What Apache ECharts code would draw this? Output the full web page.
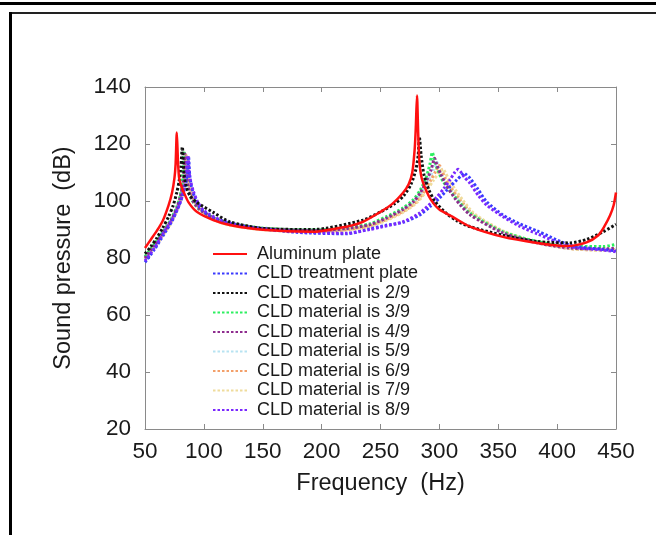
<!DOCTYPE html>
<html>
<head>
<meta charset="utf-8">
<script src="https://cdn.jsdelivr.net/npm/echarts@6/dist/echarts.min.js"></script>
<style>
html,body{margin:0;padding:0;background:#fff;}
#chart{width:656px;height:535px;}
</style>
</head>
<body>
<div id="chart"></div>
<script>
// ---- data ----
var xTicks = [50, 100, 150, 200, 250, 300, 350, 400, 450];
var yTicks = [20, 40, 60, 80, 100, 120, 140];

var seriesNames = [
  'Aluminum plate', 'CLD treatment plate', 'CLD material is 2/9', 'CLD material is 3/9',
  'CLD material is 4/9', 'CLD material is 5/9', 'CLD material is 6/9', 'CLD material is 7/9', 'CLD material is 8/9'
];

var fAl = [50,55,60,65,70,73,75,76,77,78,79,81,83,87,94,108,122,150,193,221,235,250,260,269,274,277,279,280,281,282,283,285,289,293,300,311,326,354,383,408,425,435,440,445,448,450];
var vAl = [83.5,86.5,89.5,93,98.5,103,108,113,124,114,108,105,103,99.5,96.2,93.3,91.6,89.9,89.2,91,92.7,96.2,99,102.8,106,110,118,126,137,124,114,108,103.5,100.3,97,94.5,91,87.4,85.3,84.2,85.5,88,91,95,98.5,103];

var fCld = [50,58,66,73,78,82,85,86,87,88,89.5,92,96,104,114,136,179,221,241,255,269,283,292,300,309,315,319,321,323,326,333,340,354,368,383,411,439,450];
var vCld = [78.5,83,88.3,93,97.5,102,107,110,115.5,109,105,101.5,98,95,93.2,91,89,88.5,90.2,91.5,92.5,95,98,101,105,107.5,109,109.8,109.2,108,104,99.8,95.1,92,89.5,84.5,83,82.5];

var f29 = [50,55,60,65,70,74,77,79,80.5,81.7,83,85,88,94,108,122,150,193,235,250,262,270,276,280,282,283,284.5,287,291,296,305,315,326,354,383,411,425,439,450];
var v29 = [81.5,84,87,90.5,94.5,98.5,103,107,112,119,110,105,102,99.5,96,92.7,90.4,90,93.3,96.2,99,102,106,111,116,122.5,116,109,104,100,96,93,91,88,85.8,85.3,86.5,89.2,91.8];

var f39 = [50,58,65,72,77,80,82,83.2,84.5,86,89,95,108,122,150,193,221,241,255,269,278,284,289,292,294,296,298,303,312,326,354,383,411,439,450];
var v39 = [80.5,85,89,93.5,98,102,108,117.5,110,105,101,97.5,94.2,92.2,90.5,89.8,90.5,92,94.5,97.5,100.5,104,108.5,113,117,114,111.5,107,102,95.7,89.2,85.8,84,84,84.8];

var f49 = [50,58,65,72,77,80,82.5,84,85.2,87,90,96,108,122,150,193,221,241,255,269,278,284,289,293,296,298,301,306,314,326,354,383,411,439,450];
var v49 = [80,84.5,88.5,93,97.5,101.5,107,116.5,109.5,104.5,100.5,97.2,94,92,90.3,89.6,90.3,91.7,94,97,99.8,103,107,111,115,112.5,109.5,105.5,100.5,95.2,88.8,85.3,83.5,83.2,83.4];

var f59 = [50,58,65,72,77,80,83,84.6,86,88,91,97,108,122,150,193,221,241,255,269,278,285,291,295,298,300,303,308,316,326,354,383,411,439,450];
var v59 = [79.8,84.3,88.3,92.8,97.2,101,107,116,109,104,100.2,97,93.8,91.8,90.1,89.4,90.1,91.5,93.7,96.6,99.4,103,107.5,111,113.5,111.5,108.5,105,100.5,96,89,85.3,83.3,82.9,83];

var f69 = [50,58,65,72,77,80,83.5,85,86.5,88.5,92,98,108,122,150,193,221,241,255,269,280,287,293,297,300,302,305,310,318,328,354,383,411,439,450];
var v69 = [79.6,84,88,92.6,97,100.7,106.8,116,109,104,100,96.8,93.6,91.6,90,89.3,89.9,91.3,93.5,96.3,99.5,103.2,107.5,110.5,112.5,110.8,108,104.5,100.3,95.5,89.3,85.4,83.3,82.8,82.9];

var f79 = [50,58,65,72,77,81,84,85.5,87,89,92.5,98,108,122,150,193,221,241,255,269,281,289,295,300,303,305,308,313,320,330,354,383,411,439,450];
var v79 = [79.4,83.8,87.8,92.3,96.7,101,107,115.5,108.8,103.8,99.8,96.7,93.5,91.5,89.9,89.2,89.8,91.1,93.2,96,99.5,103.5,107.3,110,111.2,110,107.6,104.3,100.2,95.4,89.5,85.5,83.3,82.7,82.7];

var f89 = [50,58,65.6,73,79.7,84,85.4,86.5,87.5,89,91,95,99.6,114,136,179,221,241,250,269,283,297,304,309,313,316,318,321,326,333,340,354,368,383,411,439,450];
var v89 = [79,83.5,88.8,93.5,99.3,106,111,116,110,106.5,103.5,99.5,96.8,93.3,91,89.2,88.7,90,90.8,92.7,95.7,101,104.5,107.4,110,111.1,110.3,108.5,106.2,102,98.6,94.5,91.2,88.5,84,82.8,82.2];

// ---- chart ----
var FONT = '"Liberation Sans", Arial, sans-serif';
var colors = ['#ff1010', '#3a3aff', '#111111', '#2df060', '#8e2c8e', '#b7e3f2', '#f3a06a', '#efdc9c', '#7a28ff'];
var fs = [fAl, fCld, f29, f39, f49, f59, f69, f79, f89];
var vs = [vAl, vCld, v29, v39, v49, v59, v69, v79, v89];

function pairs(f, v) {
  var out = [];
  for (var i = 0; i < f.length; i++) out.push([f[i], v[i]]);
  return out;
}

var series = [];
var order = [5, 6, 7, 3, 4, 1, 8, 2, 0];
order.forEach(function (idx) {
  series.push({
    name: seriesNames[idx],
    type: 'line',
    data: pairs(fs[idx], vs[idx]),
    smooth: 0.25,
    showSymbol: false,
    symbol: 'none',
    animation: false,
    xAxisIndex: 0,
    yAxisIndex: 0,
    lineStyle: {
      color: colors[idx],
      width: idx === 0 ? 2.5 : 3,
      type: idx === 0 ? 'solid' : [2.5, 2]
    },
    itemStyle: { color: colors[idx] },
    z: 2 + order.indexOf(idx)
  });
});

var axisLineStyle = { color: '#8a8a8a', width: 1 };

var option = {
  backgroundColor: '#ffffff',
  animation: false,
  grid: { left: 145, right: 40, top: 87, bottom: 106, containLabel: false },
  xAxis: [{
    type: 'value', min: 50, max: 450, interval: 50,
    position: 'bottom',
    name: 'Frequency  (Hz)', nameLocation: 'middle', nameGap: 43,
    nameTextStyle: { fontFamily: FONT, fontSize: 23.5, color: '#1a1a1a' },
    axisLine: { show: true, lineStyle: axisLineStyle },
    axisTick: { show: true, inside: true, length: 5, lineStyle: axisLineStyle },
    axisLabel: { fontFamily: FONT, fontSize: 22.5, color: '#1a1a1a', margin: 11 },
    splitLine: { show: false }
  }, {
    type: 'value', min: 50, max: 450, interval: 50,
    position: 'top',
    axisLine: { show: true, lineStyle: axisLineStyle },
    axisTick: { show: true, inside: true, length: 5, lineStyle: axisLineStyle },
    axisLabel: { show: false },
    splitLine: { show: false }
  }],
  yAxis: [{
    type: 'value', min: 20, max: 140, interval: 20,
    position: 'left',
    name: 'Sound pressure  (dB)', nameLocation: 'middle', nameGap: 69, nameRotate: 90,
    nameTextStyle: { fontFamily: FONT, fontSize: 23.5, color: '#1a1a1a' },
    axisLine: { show: true, lineStyle: axisLineStyle },
    axisTick: { show: true, inside: true, length: 5, lineStyle: axisLineStyle },
    axisLabel: { fontFamily: FONT, fontSize: 22.5, color: '#1a1a1a', margin: 14 },
    splitLine: { show: false }
  }, {
    type: 'value', min: 20, max: 140, interval: 20,
    position: 'right',
    axisLine: { show: true, lineStyle: axisLineStyle },
    axisTick: { show: true, inside: true, length: 5, lineStyle: axisLineStyle },
    axisLabel: { show: false },
    splitLine: { show: false }
  }],
  legend: {
    data: seriesNames,
    orient: 'vertical',
    left: 212,
    top: 245,
    itemWidth: 34,
    itemHeight: 14,
    itemGap: 1.5,
    padding: 0,
    itemStyle: { opacity: 0 },
    textStyle: { fontFamily: FONT, fontSize: 18, color: '#1a1a1a', lineHeight: 18, padding: [0, 0, 0, 5] },
    selectedMode: false
  },
  graphic: [
    { type: 'rect', shape: { x: 0, y: 2, width: 656, height: 3 }, style: { fill: '#000' }, silent: true },
    { type: 'rect', shape: { x: 9, y: 12, width: 647, height: 2 }, style: { fill: '#222' }, silent: true },
    { type: 'rect', shape: { x: 9, y: 12, width: 3, height: 523 }, style: { fill: '#000' }, silent: true }
  ],
  series: series
};

var chart = echarts.init(document.getElementById('chart'), null, { renderer: 'canvas' });
chart.setOption(option);
</script>
</body>
</html>
